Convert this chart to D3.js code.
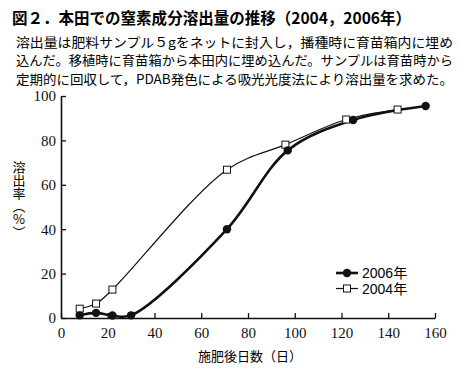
<!DOCTYPE html>
<html>
<head>
<meta charset="utf-8">
<script src="https://cdn.jsdelivr.net/npm/d3@7"></script>
<style>
    body { margin: 0; background: #fff; }
    svg { display: block; }
</style>
</head>
<body>
<div id="canvas"></div>
<script>
"use strict"

let svgWidth = 458
let svgHeight = 376

let topMargin = 96;
let rightMargin = 23;
let bottomMargin = 58;
let leftMargin = 61;

// chart values
let days2006 = [8, 15, 22, 30, 71, 97, 125, 156]
let rate2006 = [1.2, 2.3, 1.1, 1.2, 40, 75.5, 89.2, 95.5]
let days2004 = [8, 15, 22, 71, 96, 122, 144]
let rate2004 = [4.2, 6.5, 12.8, 66.8, 78.1, 89.4, 93.9]
let xTicks = [0, 20, 40, 60, 80, 100, 120, 140, 160]
let yTicks = [0, 20, 40, 60, 80, 100]
let seriesNames = ["2006年", "2004年"]

let titleText = "図２．本田での窒素成分溶出量の推移（2004，2006年）"
let noteLines = [
    "溶出量は肥料サンプル５gをネットに封入し，播種時に育苗箱内に埋め",
    "込んだ。移植時に育苗箱から本田内に埋め込んだ。サンプルは育苗時から",
    "定期的に回収して，PDAB発色による吸光光度法により溶出量を求めた。"
]

let gothic = "'Noto Sans CJK JP', 'Noto Sans', sans-serif"
let serif = "'Liberation Serif', 'DejaVu Serif', serif"

let svg = d3.select("#canvas")
    .append("svg")
    .attr("width", svgWidth)
    .attr("height", svgHeight)

let xScale = d3.scaleLinear()
    .domain([0, 160])
    .range([leftMargin, svgWidth - rightMargin])

let yScale = d3.scaleLinear()
    .domain([0, 100])
    .range([svgHeight - bottomMargin, topMargin])

/* title and note */
svg.append("text")
    .attr("x", 12)
    .attr("y", 24)
    .attr("font-family", gothic)
    .attr("font-weight", "bold")
    .attr("font-size", 16)
    .attr("textLength", 399)
    .attr("lengthAdjust", "spacingAndGlyphs")
    .text(titleText)

svg.selectAll("text.note")
    .data(noteLines)
    .join("text")
    .classed("note", true)
    .attr("x", 16)
    .attr("y", function (d, i) { return 47 + i * 18.3 })
    .attr("font-family", gothic)
    .attr("font-size", 13)
    .attr("textLength", 437)
    .attr("lengthAdjust", "spacingAndGlyphs")
    .text(function (d) { return d })

/* axes */
let xAxis = svg.append("g")
    .attr("transform", `translate(0, ${yScale(0)})`)
    .call(d3.axisBottom(xScale).tickValues(xTicks).tickSizeInner(-5).tickSizeOuter(0).tickPadding(9))

let yAxis = svg.append("g")
    .attr("transform", `translate(${leftMargin}, 0)`)
    .call(d3.axisLeft(yScale).tickValues(yTicks).tickSizeInner(-5).tickSizeOuter(0).tickPadding(5))

svg.selectAll(".domain").attr("stroke", "#111").attr("stroke-width", 1.6)
svg.selectAll(".tick line").attr("stroke", "#111").attr("stroke-width", 1.3)
svg.selectAll(".tick text")
    .attr("font-family", serif)
    .attr("font-size", 15)
    .attr("fill", "#111")

/* axis labels */
svg.append("text")
    .attr("x", 250)
    .attr("y", 361)
    .attr("text-anchor", "middle")
    .attr("font-family", gothic)
    .attr("font-size", 13)
    .text("施肥後日数（日）")

// vertical y label, % kept upright
let yLabel = svg.append("text")
    .attr("x", 19)
    .attr("y", 161)
    .attr("font-family", gothic)
    .attr("font-size", 13)
    .style("writing-mode", "vertical-rl")
yLabel.append("tspan").text("溶出率（")
yLabel.append("tspan").style("text-orientation", "upright").text("%")
yLabel.append("tspan").text("）")

/* lines */
let data2006 = days2006.map(function (d, i) { return { day: d, rate: rate2006[i] } })
let data2004 = days2004.map(function (d, i) { return { day: d, rate: rate2004[i] } })

let line = d3.line()
    .x(function (d) { return xScale(d.day) })
    .y(function (d) { return yScale(d.rate) })
    .curve(d3.curveCatmullRom.alpha(0.5))

svg.append("path")
    .datum(data2004)
    .attr("d", line)
    .attr("fill", "none")
    .attr("stroke", "#111")
    .attr("stroke-width", 1.2)

svg.append("path")
    .datum(data2006)
    .attr("d", line)
    .attr("fill", "none")
    .attr("stroke", "#111")
    .attr("stroke-width", 2.6)

svg.selectAll("rect.p2004")
    .data(data2004)
    .join("rect")
    .classed("p2004", true)
    .attr("x", function (d) { return xScale(d.day) - 3.5 })
    .attr("y", function (d) { return yScale(d.rate) - 3.5 })
    .attr("width", 7)
    .attr("height", 7)
    .attr("fill", "#fff")
    .attr("stroke", "#111")
    .attr("stroke-width", 1)

svg.selectAll("circle.p2006")
    .data(data2006)
    .join("circle")
    .classed("p2006", true)
    .attr("cx", function (d) { return xScale(d.day) })
    .attr("cy", function (d) { return yScale(d.rate) })
    .attr("r", 4.2)
    .attr("fill", "#111")

/* legend */
let legendX = 336
let legendY = [273, 288.5]

for (let i = 0; i < 2; i++) {
    svg.append("line")
        .attr("x1", legendX)
        .attr("x2", legendX + 22)
        .attr("y1", legendY[i])
        .attr("y2", legendY[i])
        .attr("stroke", "#111")
        .attr("stroke-width", i == 0 ? 2.6 : 1.2)

    if (i == 0) {
        svg.append("circle")
            .attr("cx", legendX + 11)
            .attr("cy", legendY[i])
            .attr("r", 4.2)
            .attr("fill", "#111")
    } else {
        svg.append("rect")
            .attr("x", legendX + 7.5)
            .attr("y", legendY[i] - 3.5)
            .attr("width", 7)
            .attr("height", 7)
            .attr("fill", "#fff")
            .attr("stroke", "#111")
    }

    svg.append("text")
        .attr("x", legendX + 26)
        .attr("y", legendY[i] + 5)
        .attr("font-family", "'Liberation Sans', " + gothic)
        .attr("font-size", 14)
        .text(seriesNames[i])
}
</script>
</body>
</html>
